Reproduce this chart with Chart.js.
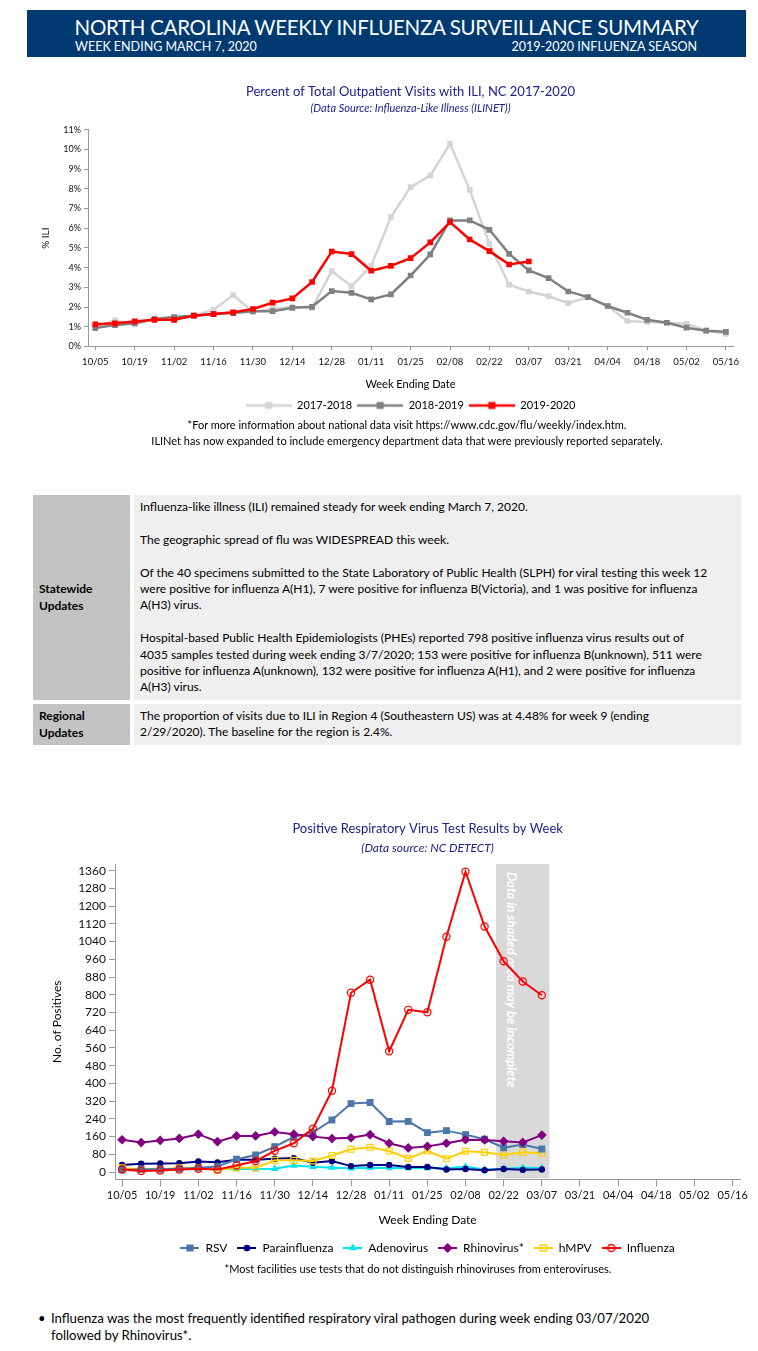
<!DOCTYPE html>
<html>
<head>
<meta charset="utf-8">
<script src="https://cdn.jsdelivr.net/npm/chart.js@4.4.1/dist/chart.umd.min.js"></script>
<style>
body{margin:0;width:758px;height:1351px;background:#fff;font-family:Lato,"Noto Sans",sans-serif;color:#000;position:relative;overflow:hidden}
.abs{position:absolute;white-space:nowrap}
#hdr{left:27px;top:10px;width:719px;height:47px;background:#003a70;color:#fff}
#hdr .t1{left:0;width:100%;top:4px;line-height:26px;font-size:20.5px;text-align:center;letter-spacing:-0.3px}
#hdr .t2{top:28px;line-height:18px;font-size:12.5px}
.lc{background:#c3c3c3;font-weight:bold;font-size:12px;line-height:16.4px;padding-left:6px;box-sizing:border-box;display:flex;align-items:center}
.rc{background:#efefef;font-size:12px;line-height:16.4px;padding:4px 0 0 6px;box-sizing:border-box}
.note{font-size:11px;line-height:16px;text-align:center}
</style>
</head>
<body>
<div id="hdr" class="abs">
  <div class="abs t1">NORTH CAROLINA WEEKLY INFLUENZA SURVEILLANCE SUMMARY</div>
  <div class="abs t2" style="left:48px">WEEK ENDING MARCH 7, 2020</div>
  <div class="abs t2" style="right:49px">2019-2020 INFLUENZA SEASON</div>
</div>

<div class="abs" style="left:30px;top:78px;width:718px;height:343px"><canvas id="ili"></canvas></div>
<div class="abs note" style="left:100px;width:614px;top:417px">*For more information about national data visit https://www.cdc.gov/flu/weekly/index.htm.<br>ILINet has now expanded to include emergency department data that were previously reported separately.</div>

<div class="abs lc" style="left:33px;top:495px;width:97px;height:205px">Statewide<br>Updates</div>
<div class="abs rc" style="left:134px;top:495px;width:607px;height:205px">Influenza-like illness (ILI) remained steady for week ending March 7, 2020.<br><br>The geographic spread of flu was WIDESPREAD this week.<br><br>Of the 40 specimens submitted to the State Laboratory of Public Health (SLPH) for viral testing this week 12<br>were positive for influenza A(H1), 7 were positive for influenza B(Victoria), and 1 was positive for influenza<br>A(H3) virus.<br><br>Hospital-based Public Health Epidemiologists (PHEs) reported 798 positive influenza virus results out of<br>4035 samples tested during week ending 3/7/2020; 153 were positive for influenza B(unknown), 511 were<br>positive for influenza A(unknown), 132 were positive for influenza A(H1), and 2 were positive for influenza<br>A(H3) virus.</div>
<div class="abs lc" style="left:33px;top:704px;width:97px;height:41px">Regional<br>Updates</div>
<div class="abs rc" style="left:134px;top:704px;width:607px;height:41px">The proportion of visits due to ILI in Region 4 (Southeastern US) was at 4.48% for week 9 (ending<br>2/29/2020). The baseline for the region is 2.4%.</div>

<div class="abs" style="left:30px;top:815px;width:720px;height:449px"><canvas id="resp"></canvas></div>
<div class="abs note" style="left:118px;width:600px;top:1261px">*Most facilities use tests that do not distinguish rhinoviruses from enteroviruses.</div>

<div class="abs" style="left:38px;top:1310px;font-size:13px;line-height:16.5px">&#8226;</div>
<div class="abs" style="left:51px;top:1310px;font-size:13.2px;line-height:16.5px">Influenza was the most frequently identified respiratory viral pathogen during week ending 03/07/2020<br>followed by Rhinovirus*.</div>

<script>
// week ending dates, 2019-2020 season axis
var weekLabels = ['10/05','10/12','10/19','10/26','11/02','11/09','11/16','11/23','11/30','12/07','12/14','12/21','12/28',
    '01/04','01/11','01/18','01/25','02/01','02/08','02/15','02/22','02/29','03/07','03/14','03/21','03/28','04/04',
    '04/11','04/18','04/25','05/02','05/09','05/16'];

// % ILI
var ili1718 = [1.0,1.32,1.12,1.42,1.45,1.56,1.86,2.61,1.74,1.91,2.0,1.96,3.82,3.06,4.09,6.57,8.09,8.68,10.29,7.95,5.21,3.13,2.79,2.55,2.20,2.50,2.05,1.29,1.24,1.20,1.15,0.80,0.64];
var ili1819 = [0.93,1.08,1.18,1.39,1.49,1.56,1.64,1.69,1.79,1.79,1.96,2.01,2.81,2.72,2.39,2.64,3.60,4.67,6.40,6.40,5.92,4.70,3.86,3.47,2.79,2.50,2.05,1.71,1.35,1.20,0.95,0.80,0.74];
var ili1920 = [1.12,1.17,1.27,1.35,1.35,1.56,1.64,1.73,1.90,2.22,2.44,3.27,4.82,4.69,3.84,4.09,4.48,5.28,6.31,5.43,4.84,4.16,4.31];
var iliTicks = [0,1,2,3,4,5,6,7,8,9,10,11];

// positive tests by week
var rsv   = [10,12,13,15,20,25,58,77,115,158,178,235,309,314,228,229,178,187,169,148,110,124,104];
var para  = [32,38,39,40,48,44,56,56,60,63,42,50,27,32,32,23,23,12,14,8,14,10,12];
var adeno = [12,14,14,14,15,14,14,14,15,30,24,20,17,20,18,18,18,17,24,12,15,20,18];
var rhino = [146,133,143,152,171,137,163,163,181,171,160,151,155,169,130,109,116,130,146,145,139,134,167];
var hmpv  = [19,12,12,19,19,9,19,19,53,53,50,75,103,112,95,62,95,60,94,89,77,89,85];
var flu   = [12,5,7,12,15,12,30,50,96,130,196,367,809,868,545,732,721,1062,1355,1108,951,860,798];
var countTicks = [0,80,160,240,320,400,480,560,640,720,800,880,960,1040,1120,1200,1280,1360];

// weeks in the shaded (incomplete) band
var shadeFrom = 19.6, shadeTo = 22.4;
var shadeNote = 'Data in shaded area may be incomplete';

Chart.defaults.font.family = 'Lato';
Chart.defaults.color = '#111';
Chart.defaults.animation = false;

function pts(arr) {
    return arr.map(function(v, i) { return {x: i, y: v}; });
}

function evenWeekTicks(s) {
    s.ticks = weekLabels.map(function(l, i) { return i; })
        .filter(function(i) { return i % 2 === 0; })
        .map(function(v) { return {value: v}; });
}

// small line+marker picture for the legends
function legendIcon(w, color, lw, style, r, fill) {
    var c = document.createElement('canvas');
    c.width = w; c.height = 12;
    var ctx = c.getContext('2d');
    ctx.strokeStyle = color;
    ctx.lineWidth = lw;
    ctx.beginPath(); ctx.moveTo(0, 6); ctx.lineTo(w, 6); ctx.stroke();
    ctx.fillStyle = fill;
    ctx.lineWidth = 1.5;
    Chart.helpers.drawPoint(ctx, {pointStyle: style, radius: r, borderWidth: 1.5, rotation: 0}, w / 2, 6);
    return c;
}

function iconLabels(icons) {
    return function(chart) {
        return Chart.defaults.plugins.legend.labels.generateLabels(chart).map(function(l) {
            l.pointStyle = icons[l.datasetIndex];
            return l;
        });
    };
}

//ILI chart
var iliColors = ['#d4d4d4', '#808080', '#ff0000'];
var iliIcons = iliColors.map(function(c) { return legendIcon(46, c, 2.5, 'rect', 4, c); });

new Chart(document.getElementById('ili'), {
    type: 'line',
    data: {
        datasets: [
            {label: '2017-2018', data: pts(ili1718), borderColor: iliColors[0], backgroundColor: iliColors[0], order: 2},
            {label: '2018-2019', data: pts(ili1819), borderColor: iliColors[1], backgroundColor: iliColors[1], order: 1},
            {label: '2019-2020', data: pts(ili1920), borderColor: iliColors[2], backgroundColor: iliColors[2], order: 0}
        ]
    },
    options: {
        responsive: true,
        maintainAspectRatio: false,
        layout: {padding: {right: 15}},
        elements: {
            line: {borderWidth: 2.5, tension: 0},
            point: {pointStyle: 'rect', radius: 4, borderWidth: 0}
        },
        scales: {
            x: {
                type: 'linear', min: -0.37, max: 32.36,
                afterBuildTicks: evenWeekTicks,
                ticks: {callback: function(v) { return weekLabels[v]; }, autoSkip: false, maxRotation: 0, font: {size: 9.5}, padding: 6},
                grid: {drawOnChartArea: false, tickLength: 4, color: '#9a9a9a'},
                border: {color: '#9a9a9a'},
                title: {display: true, text: 'Week Ending Date', font: {size: 11}, color: '#000', padding: {top: 4, bottom: 4}}
            },
            y: {
                min: 0, max: 11,
                afterBuildTicks: function(s) { s.ticks = iliTicks.map(function(v) { return {value: v}; }); },
                afterFit: function(s) { s.width = 58; },
                ticks: {callback: function(v) { return v + '%'; }, font: {size: 9}, padding: 3},
                grid: {drawOnChartArea: false, tickLength: 4, color: '#9a9a9a'},
                border: {color: '#9a9a9a'},
                title: {display: true, text: '% ILI', font: {size: 10}, color: '#000', padding: {top: 10, bottom: 0}}
            }
        },
        plugins: {
            title: {display: true, fullSize: false, text: 'Percent of Total Outpatient Visits with ILI, NC 2017-2020', color: '#20208f', font: {size: 13, weight: 'normal'}, padding: {top: 6, bottom: 2}},
            subtitle: {display: true, fullSize: false, text: '(Data Source: Influenza-Like Illness (ILINET))', color: '#20208f', font: {size: 11, style: 'italic'}, padding: {bottom: 15}},
            legend: {
                position: 'bottom', fullSize: false,
                labels: {usePointStyle: true, pointStyleWidth: 46, padding: 5, color: '#000', font: {size: 11},
                    generateLabels: iconLabels(iliIcons),
                    sort: function(a, b) { return a.datasetIndex - b.datasetIndex; }}
            },
            tooltip: {enabled: false}
        }
    }
});
//END - ILI chart

//Respiratory virus chart
var shadePlugin = {
    id: 'shade',
    beforeDatasetsDraw: function(chart) {
        var ctx = chart.ctx, a = chart.chartArea, x = chart.scales.x;
        var x0 = x.getPixelForValue(shadeFrom), x1 = x.getPixelForValue(shadeTo);
        ctx.save();
        ctx.fillStyle = '#d9d9d9';
        ctx.fillRect(x0, a.top, x1 - x0, a.bottom - a.top - 1);
        ctx.translate((x0 + x1) / 2 - 12, a.top + 8);
        ctx.rotate(Math.PI / 2);
        ctx.fillStyle = '#ffffff';
        ctx.font = 'italic bold 13px Lato';
        ctx.textBaseline = 'middle';
        ctx.fillText(shadeNote, 0, 0);
        ctx.restore();
    }
};

var respSeries = [
    {label: 'RSV', data: rsv, color: '#4a76aa', style: 'rect', r: 4, fill: '#4a76aa', order: 2},
    {label: 'Parainfluenza', data: para, color: '#000080', style: 'circle', r: 2.6, fill: '#000080', order: 4},
    {label: 'Adenovirus', data: adeno, color: '#00e5ee', style: 'triangle', r: 3.2, fill: '#00e5ee', order: 5},
    {label: 'Rhinovirus*', data: rhino, color: '#800080', style: 'rectRot', r: 4, fill: '#800080', order: 1},
    {label: 'hMPV', data: hmpv, color: '#ffd000', style: 'rect', r: 4.2, fill: 'rgba(255,255,255,0)', order: 3},
    {label: 'Influenza', data: flu, color: '#ff0000', style: 'circle', r: 3.6, fill: 'rgba(255,255,255,0)', order: 0}
];
var respIcons = respSeries.map(function(s) { return legendIcon(19, s.color, 2, s.style, s.r, s.fill); });

new Chart(document.getElementById('resp'), {
    type: 'line',
    data: {
        datasets: respSeries.map(function(s) {
            return {
                label: s.label, data: pts(s.data), order: s.order,
                borderColor: s.color, backgroundColor: s.fill,
                pointStyle: s.style, pointRadius: s.r,
                pointBorderColor: s.color, pointBackgroundColor: s.fill, pointBorderWidth: 1.2
            };
        })
    },
    plugins: [shadePlugin],
    options: {
        responsive: true,
        maintainAspectRatio: false,
        layout: {padding: {right: 8}},
        elements: {line: {borderWidth: 2, tension: 0}},
        scales: {
            x: {
                type: 'linear', min: -0.37, max: 32.4,
                afterBuildTicks: evenWeekTicks,
                ticks: {callback: function(v) { return weekLabels[v]; }, autoSkip: false, maxRotation: 0, font: {size: 11}, padding: 2},
                grid: {drawOnChartArea: false, tickLength: 7, color: '#9a9a9a'},
                border: {color: '#9a9a9a'},
                title: {display: true, text: 'Week Ending Date', font: {size: 12}, color: '#000', padding: {top: 9, bottom: 5}}
            },
            y: {
                min: -33, max: 1390,
                afterBuildTicks: function(s) { s.ticks = countTicks.map(function(v) { return {value: v}; }); },
                afterFit: function(s) { s.width = 85; },
                ticks: {callback: function(v) { return String(v); }, font: {size: 12}, padding: 3},
                grid: {drawOnChartArea: false, tickLength: 6, color: '#9a9a9a'},
                border: {color: '#9a9a9a'},
                title: {display: true, text: 'No. of Positives', font: {size: 12}, color: '#000', padding: {top: 20, bottom: 0}}
            }
        },
        plugins: {
            title: {display: true, fullSize: false, text: 'Positive Respiratory Virus Test Results by Week', color: '#20208f', font: {size: 13, weight: 'normal'}, padding: {top: 6, bottom: 4}},
            subtitle: {display: true, fullSize: false, text: '(Data source: NC DETECT)', color: '#20208f', font: {size: 12, style: 'italic'}, padding: {bottom: 9}},
            legend: {
                position: 'bottom', fullSize: false,
                labels: {usePointStyle: true, pointStyleWidth: 19, padding: 10, color: '#000', font: {size: 12},
                    generateLabels: iconLabels(respIcons),
                    sort: function(a, b) { return a.datasetIndex - b.datasetIndex; }}
            },
            tooltip: {enabled: false}
        }
    }
});
//END - Respiratory virus chart
</script>
</body>
</html>
